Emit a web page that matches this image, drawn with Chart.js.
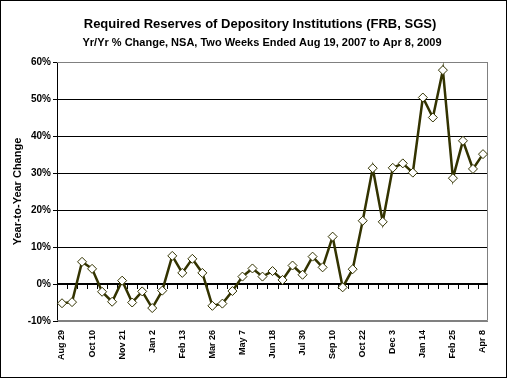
<!DOCTYPE html>
<html>
<head>
<meta charset="utf-8">
<script src="https://cdn.jsdelivr.net/npm/chart.js@4/dist/chart.umd.min.js"></script>
<style>
  body { margin: 0; background: #fff; }
  canvas { display: block; }
</style>
</head>
<body>
<canvas id="reserves" width="507" height="378"></canvas>
<script>
// Titres
const mainTitle = "Required Reserves of Depository Institutions (FRB, SGS)";
const subTitle = "Yr/Yr % Change, NSA, Two Weeks Ended Aug 19, 2007 to Apr 8, 2009";
const yTitle = "Year-to-Year Change";

// Dates (toutes les deux semaines), une étiquette sur trois est affichée
const weekLabels = [
  "Aug 29", "Sep 12", "Sep 26", "Oct 10", "Oct 24", "Nov 7", "Nov 21", "Dec 5", "Dec 19",
  "Jan 2", "Jan 16", "Jan 30", "Feb 13", "Feb 27", "Mar 12", "Mar 26", "Apr 9", "Apr 23",
  "May 7", "May 21", "Jun 4", "Jun 18", "Jul 2", "Jul 16", "Jul 30", "Aug 13", "Aug 27",
  "Sep 10", "Sep 24", "Oct 8", "Oct 22", "Nov 5", "Nov 19", "Dec 3", "Dec 17", "Dec 31",
  "Jan 14", "Jan 28", "Feb 11", "Feb 25", "Mar 11", "Mar 25", "Apr 8"
];

// Variation annuelle en %
const yoyChange = [
  -5.2, -4.9, 6.0, 4.1, -2.1, -4.8, 0.9, -5.0, -2.0, -6.5, -1.8,
  7.6, 3.0, 6.8, 3.0, -5.9, -5.3, -1.9, 2.0, 4.2, 2.0,
  3.5, 1.1, 5.0, 2.5, 7.4, 4.5, 12.8, -0.9, 4.0, 17.1,
  31.3, 16.8, 31.4, 32.6, 30.1, 50.4, 45.0, 57.8, 28.6, 38.7, 31.1, 35.1
];

const yTicks = [-10, 0, 10, 20, 30, 40, 50, 60];

const FONT = "'Liberation Sans', Arial, sans-serif";
const OLIVE = "#333300";

// Cadre, titres, axe du zéro avec graduations
const decorPlugin = {
  id: "decor",
  beforeDraw(chart) {
    const ctx = chart.ctx;
    ctx.save();
    ctx.fillStyle = "#fff";
    ctx.fillRect(0, 0, chart.width, chart.height);
    ctx.strokeStyle = "#000";
    ctx.lineWidth = 1;
    ctx.strokeRect(0.5, 0.5, chart.width - 1, chart.height - 1);
    ctx.fillStyle = "#000";
    ctx.textAlign = "center";
    ctx.textBaseline = "middle";
    ctx.font = "bold 13px " + FONT;
    ctx.fillText(mainTitle, 260, 24);
    ctx.font = "bold 11px " + FONT;
    ctx.fillText(subTitle, 262, 43);
    ctx.restore();
  },
  beforeDatasetsDraw(chart) {
    const ctx = chart.ctx;
    const a = chart.chartArea;
    const x = chart.scales.x;
    const y0 = Math.round(chart.scales.y.getPixelForValue(0));
    ctx.save();
    // bordure grise de la zone de tracé
    ctx.strokeStyle = "#808080";
    ctx.lineWidth = 1;
    ctx.beginPath();
    ctx.moveTo(a.left, a.top + 0.5);
    ctx.lineTo(a.right - 0.5, a.top + 0.5);
    ctx.lineTo(a.right - 0.5, a.bottom - 0.5);
    ctx.lineTo(a.left, a.bottom - 0.5);
    ctx.stroke();
    // axe des catégories à 0%
    ctx.strokeStyle = "#000";
    ctx.lineWidth = 2;
    ctx.beginPath();
    ctx.moveTo(a.left, y0);
    ctx.lineTo(a.right, y0);
    ctx.stroke();
    const step = (a.right - a.left) / weekLabels.length;
    ctx.lineWidth = 1;
    ctx.beginPath();
    for (let i = 1; i < weekLabels.length; i++) {
      const tx = Math.round(x.getPixelForValue(i) - step / 2) + 0.5;
      ctx.moveTo(tx, y0);
      ctx.lineTo(tx, y0 + 5);
    }
    ctx.stroke();
    ctx.restore();
  }
};

new Chart("reserves", {
  type: "line",
  data: {
    labels: weekLabels,
    datasets: [{
      data: yoyChange,
      borderColor: OLIVE,
      borderWidth: 2.5,
      tension: 0,
      pointStyle: "rectRot",
      pointRadius: 4.5,
      pointBackgroundColor: "#fff",
      pointBorderColor: OLIVE,
      pointBorderWidth: 1
    }]
  },
  options: {
    responsive: false,
    animation: false,
    layout: { padding: { top: 62, right: 19, left: 0, bottom: 0 } },
    plugins: {
      legend: { display: false },
      tooltip: { enabled: false }
    },
    scales: {
      x: {
        type: "category",
        offset: true,
        grid: { display: false, drawTicks: false },
        border: { display: false },
        afterFit: (scale) => { scale.height = 57; },
        ticks: {
          autoSkip: false,
          maxRotation: 90,
          minRotation: 90,
          padding: 9,
          color: "#000",
          font: { family: FONT, size: 9, weight: "bold" },
          callback: (val, i) => (i % 3 === 0 ? weekLabels[i] : "")
        }
      },
      y: {
        min: -10,
        max: 60,
        afterFit: (scale) => { scale.width = 57; },
        afterBuildTicks: (scale) => { scale.ticks = yTicks.map(v => ({ value: v })); },
        border: { color: "#000", width: 1 },
        grid: {
          color: (c) => {
            const v = c.tick && c.tick.value;
            if (v === 60 || v === -10) return "#808080";
            if (v === 0) return "rgba(0,0,0,0)";
            return "#000";
          },
          tickColor: "#000",
          tickLength: 4,
          lineWidth: 1
        },
        ticks: {
          padding: 2,
          color: "#000",
          font: { family: FONT, size: 10, weight: "bold" },
          callback: (v) => v + "%"
        },
        title: {
          display: true,
          text: yTitle,
          color: "#000",
          padding: { top: 11, bottom: 0 },
          font: { family: FONT, size: 11, weight: "bold" }
        }
      }
    }
  },
  plugins: [decorPlugin]
});
</script>
</body>
</html>
